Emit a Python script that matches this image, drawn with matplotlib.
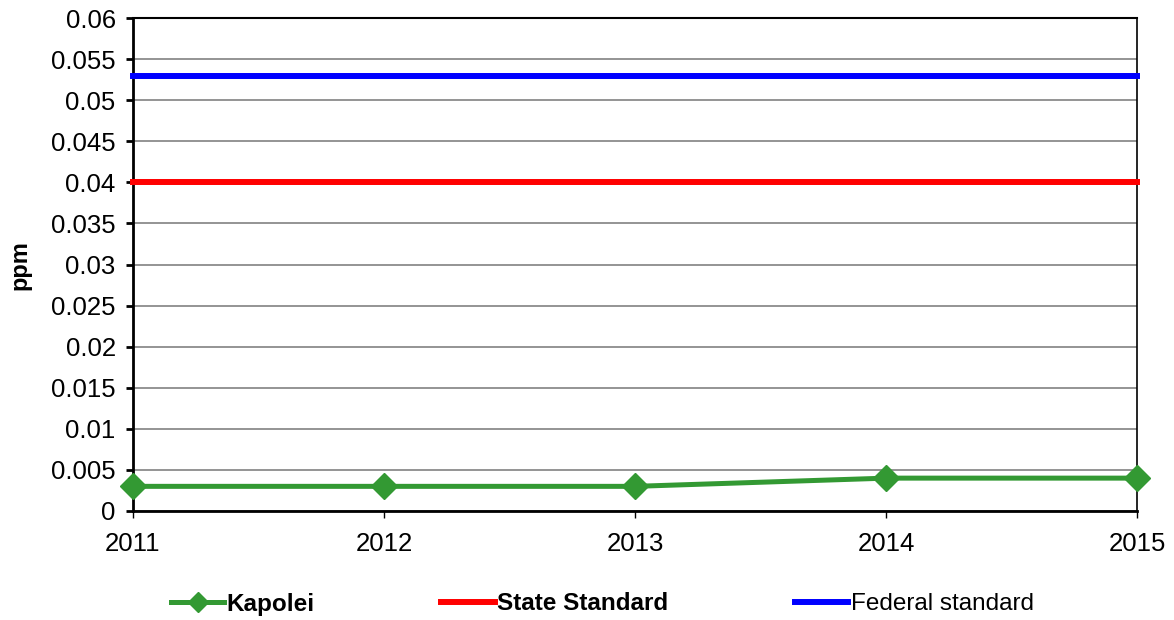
import matplotlib.pyplot as plt

plt.rcParams['font.family'] = ['Liberation Sans', 'DejaVu Sans']

years = [2011, 2012, 2013, 2014, 2015]
kapolei = [0.003, 0.003, 0.003, 0.004, 0.004]
state_std = [0.04, 0.04, 0.04, 0.04, 0.04]
federal_std = [0.053, 0.053, 0.053, 0.053, 0.053]
yticks = [i * 0.005 for i in range(13)]
ytick_labels = ["0", "0.005", "0.01", "0.015", "0.02", "0.025", "0.03",
                "0.035", "0.04", "0.045", "0.05", "0.055", "0.06"]

fig = plt.figure(figsize=(11.74, 6.2), dpi=100)
ax = fig.add_axes([133 / 1174, 1 - 511 / 620, (1137 - 133) / 1174, (511 - 18) / 620])

ax.plot(years, kapolei, color="#339933", lw=3.6, marker="D", ms=13, label="Kapolei", zorder=4)
ax.plot(years, state_std, color="#ff0000", lw=4.3, label="State Standard", zorder=3)
ax.plot(years, federal_std, color="#0000ff", lw=4.3, label="Federal standard", zorder=3)

ax.set_xlim(2011, 2015)
ax.set_ylim(0, 0.06)
ax.set_xticks(years)
ax.set_xticklabels([str(y) for y in years])
ax.set_yticks(yticks)
ax.set_yticklabels(ytick_labels)
ax.yaxis.grid(True, color="#777777", lw=1.1)
ax.set_axisbelow(True)
ax.spines["left"].set_linewidth(2)
ax.spines["bottom"].set_linewidth(2)
ax.spines["top"].set_linewidth(1.5)
ax.spines["right"].set_linewidth(1.2)
ax.tick_params(axis="y", labelsize=18.5, width=2, length=5, pad=7.5)
ax.tick_params(axis="x", labelsize=18.5, width=1, length=5, pad=10)
for ln in ax.lines:
    ln.set_clip_on(False)

fig.text(20 / 1174, 1 - 265 / 620, "ppm", rotation=90, fontsize=17, fontweight="bold",
         ha="center", va="center")

leg = fig.legend(loc="center", bbox_to_anchor=(0.513, 1 - 604 / 620), ncol=3, frameon=False,
                 fontsize=17.5, handlelength=2.2, handletextpad=0.1, columnspacing=5.2,
                 markerscale=0.75, borderaxespad=0, borderpad=0)
leg.get_texts()[0].set_fontweight("bold")
leg.get_texts()[1].set_fontweight("bold")

fig.savefig("out.png", dpi=100)
